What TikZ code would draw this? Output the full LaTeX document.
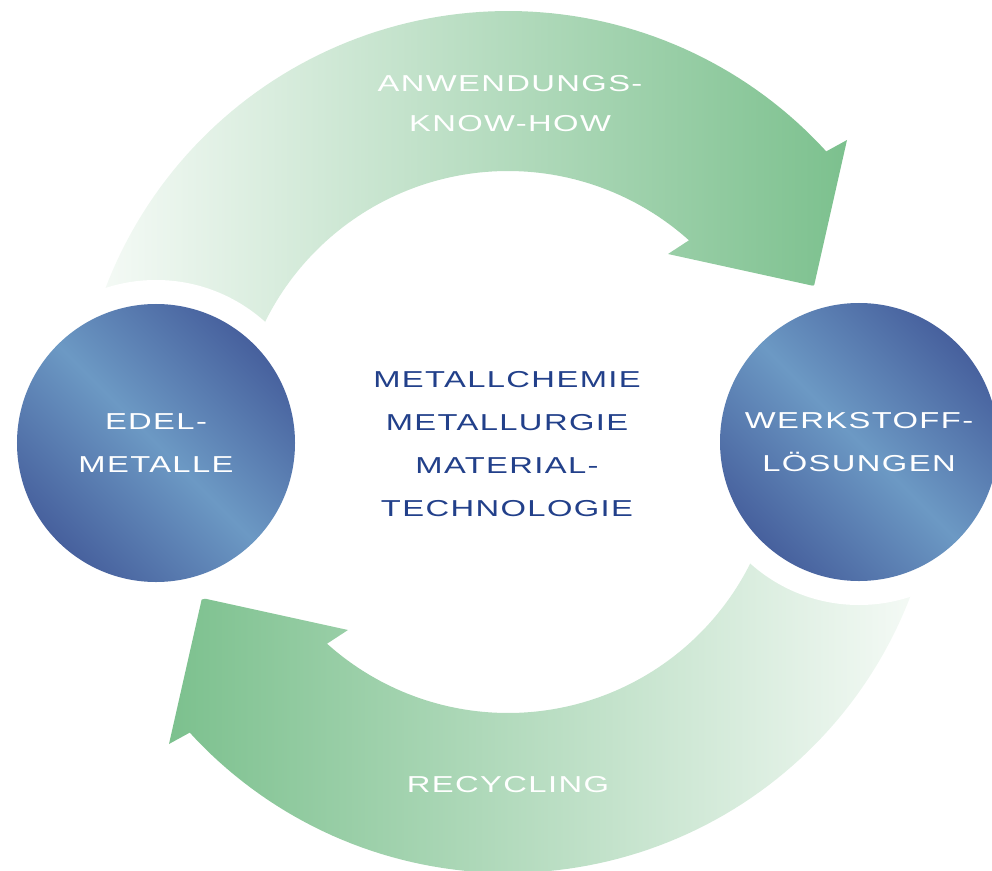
\documentclass[tikz,border=0pt]{standalone}
\usepackage{fontspec}
\newfontfamily\breit[FakeStretch=1.42,LetterSpace=6]{Liberation Sans}
\definecolor{blaudunkel}{RGB}{62,83,148}
\definecolor{blauhell}{RGB}{108,153,196}
\definecolor{schrift}{RGB}{34,64,138}
\definecolor{gruen}{RGB}{123,192,141}
\definecolor{gruenhell}{RGB}{245,250,246}
\pgfdeclareverticalshading{kugel}{100bp}{color(0bp)=(blaudunkel); color(19bp)=(blaudunkel); color(50bp)=(blauhell); color(81bp)=(blaudunkel); color(100bp)=(blaudunkel)}
% one curved arrow around (mitte), #1 = rotation, #2/#3 = colours left/right
\newcommand{\bogen}[3]{
	\begin{scope}[shift={(mitte)}, rotate=#1]
		\clip plot[domain=-166:-42.4, samples=90] (\x:431) -- (339,-302) -- (306,-156) -- (160,-188)
			-- plot[domain=-48.1:-160, samples=90] (\x:271) -- cycle;
		\shade[left color=#2, right color=#3] (-410,-440) rectangle (345,20);
	\end{scope}
}

\begin{document}
\begin{tikzpicture}[x=0.25mm, y=-0.25mm,
	kreis/.style={circle, minimum size=69.5mm, inner sep=0pt, preaction={draw=white, line width=12mm},
		shade, shading=kugel, shading angle=-45, text=white, align=center,
		font=\breit\fontsize{16.4}{30.6}\selectfont},
	kern/.style={align=center, text=schrift, font=\breit\fontsize{16.4}{30.6}\selectfont},
	ring/.style={align=center, text=white, font=\breit\fontsize{16.4}{28.5}\selectfont}]
	\useasboundingbox (0,0) rectangle (992,871);
	\coordinate (mitte) at (508,442);

	% arrows
	\bogen{0}{gruenhell}{gruen}
	\bogen{180}{gruen}{gruenhell}

	% circles
	\node[kreis] (edel) at (156,443) {EDEL-\\METALLE};
	\node[kreis] (werk) at (859,442) {WERKSTOFF-\\LÖSUNGEN};

	% texts
	\node[kern] (kern) at (507,444) {METALLCHEMIE\\METALLURGIE\\MATERIAL-\\TECHNOLOGIE};
	\node[ring] (oben) at (510,104) {ANWENDUNGS-\\KNOW-HOW};
	\node[ring] (unten) at (508,785) {RECYCLING};
\end{tikzpicture}
\end{document}
